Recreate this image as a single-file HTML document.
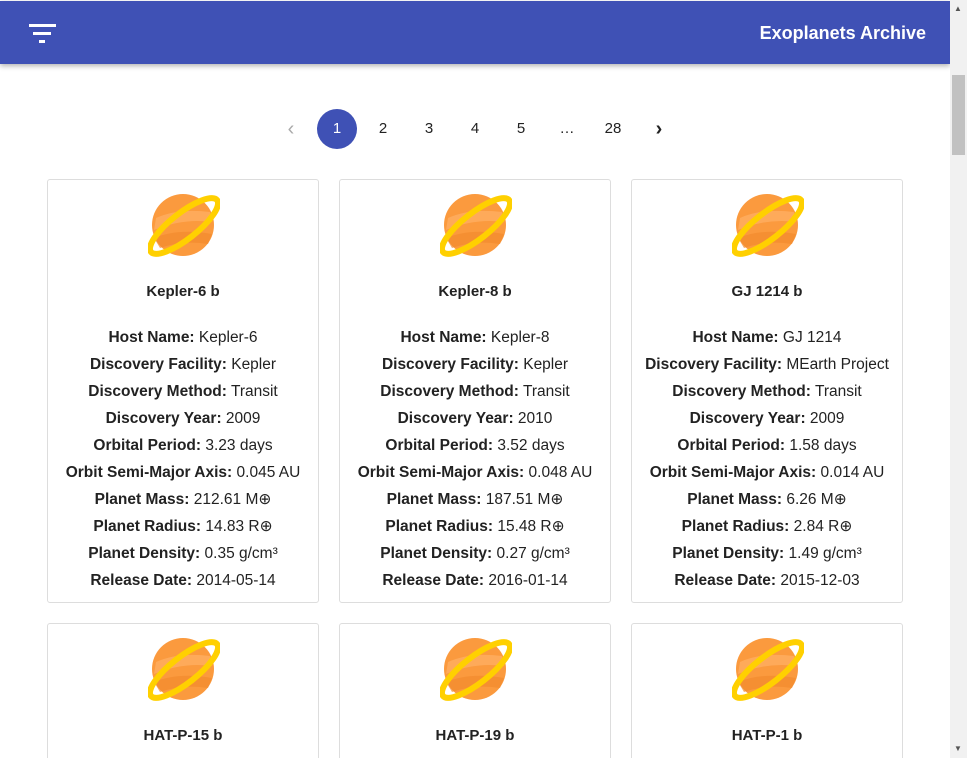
<!DOCTYPE html>
<html style="width:967px;height:758px;overflow:hidden"><head><meta charset="utf-8">
<style>
*{box-sizing:border-box;margin:0;padding:0}
body{width:967px;height:758px;overflow:hidden;background:#fff;font-family:"Liberation Sans",Arial,sans-serif;color:#222;position:relative}
#hdr{position:absolute;left:0;top:1px;width:950px;height:63px;background:#3f51b5;box-shadow:0 2px 5px rgba(0,0,0,.3)}
#title{position:absolute;right:24px;top:22px;color:#fff;font-weight:bold;font-size:18px}
.bar{position:absolute;height:3px;background:#fff}
#sb{position:absolute;left:950px;top:0;width:17px;height:758px;background:#f1f1f1}
#thumb{position:absolute;left:952px;top:75px;width:13px;height:80px;background:#c1c1c1}
.pg{position:absolute;top:109px;width:40px;height:40px;line-height:40px;text-align:center;font-size:15px;color:#222}
.card{position:absolute;width:272px;height:424px;border:1px solid #ddd;border-radius:3px;background:#fff;text-align:center;overflow:hidden}
.card svg{position:absolute;left:100px;top:8px}
.name{position:absolute;top:103px;width:100%;font-weight:bold;font-size:15px}
.rows{position:absolute;top:144px;width:100%;font-size:15.5px;line-height:27px}
.rows b{font-weight:bold}
</style></head><body>
<div id="hdr">
 <div class="bar" style="left:29px;top:23px;width:27px"></div>
 <div class="bar" style="left:33px;top:31px;width:18px"></div>
 <div class="bar" style="left:39px;top:39px;width:6px"></div>
 <div id="title">Exoplanets Archive</div>
</div>
<div id="sb"></div>
<div id="thumb"></div>
<div style="position:absolute;left:954px;top:4px;font-size:8px;color:#555">▲</div>
<div style="position:absolute;left:954px;top:744px;font-size:8px;color:#555">▼</div>
<div class="pg" style="left:271px;color:#aaa;font-size:20px">‹</div>
<div class="pg" style="left:317px;background:#3f51b5;color:#fff;border-radius:50%">1</div>
<div class="pg" style="left:363px">2</div>
<div class="pg" style="left:409px">3</div>
<div class="pg" style="left:455px">4</div>
<div class="pg" style="left:501px">5</div>
<div class="pg" style="left:547px">…</div>
<div class="pg" style="left:593px">28</div>
<div class="pg" style="left:639px;font-size:20px;font-weight:bold">›</div>
<div id="cards"></div>
<script>
const planets=[
["Kepler-6 b","Kepler-6","Kepler","Transit","2009","3.23 days","0.045 AU","212.61 M⊕","14.83 R⊕","0.35 g/cm³","2014-05-14"],
["Kepler-8 b","Kepler-8","Kepler","Transit","2010","3.52 days","0.048 AU","187.51 M⊕","15.48 R⊕","0.27 g/cm³","2016-01-14"],
["GJ 1214 b","GJ 1214","MEarth Project","Transit","2009","1.58 days","0.014 AU","6.26 M⊕","2.84 R⊕","1.49 g/cm³","2015-12-03"],
["HAT-P-15 b"],["HAT-P-19 b"],["HAT-P-1 b"]];
const labels=["Host Name","Discovery Facility","Discovery Method","Discovery Year","Orbital Period","Orbit Semi-Major Axis","Planet Mass","Planet Radius","Planet Density","Release Date"];
const icon='<svg width="72" height="72" viewBox="0 0 72 72"><circle cx="35" cy="37" r="31" fill="#fb9a3e"/><path d="M8 30 Q30 20 62 24 L64 34 Q35 30 6 42Z" fill="#ffb066" opacity=".7"/><path d="M6 50 Q30 40 64 46 L60 56 Q35 52 12 60Z" fill="#f28a2e" opacity=".7"/><ellipse cx="36" cy="38" rx="42" ry="13" transform="rotate(-38 36 38)" fill="none" stroke="#ffd000" stroke-width="6"/></svg>';
const c=document.getElementById('cards');
planets.forEach((p,i)=>{
 const d=document.createElement('div');
 d.className='card';
 
 
 d.style.left=(47+(i%3)*292)+'px';
 d.style.top=(179+Math.floor(i/3)*444)+'px';
 if(i>=3)d.style.height='140px';
 let h=icon+'<div class="name">'+p[0]+'</div><div class="rows">';
 for(let k=1;k<p.length;k++)h+='<div><b>'+labels[k-1]+':</b> '+p[k]+'</div>';
 d.innerHTML=h+'</div>';
 c.appendChild(d);
});
</script>
</body></html>
